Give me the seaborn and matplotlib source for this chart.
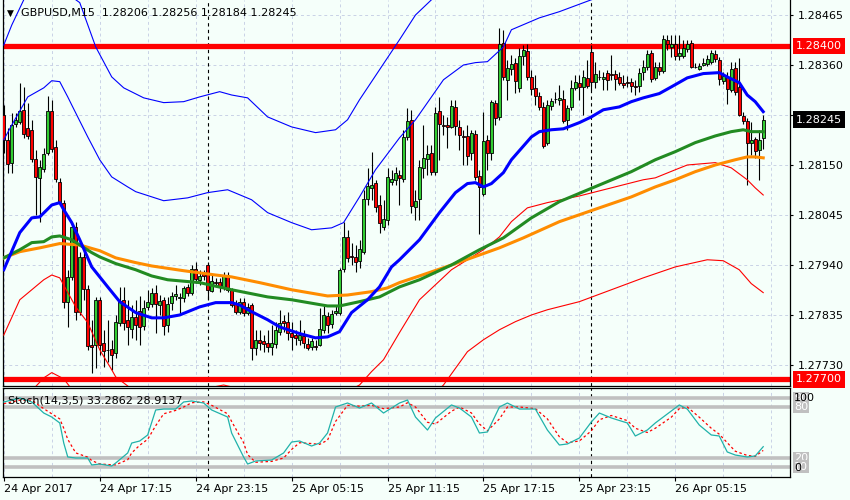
import numpy as np
import pandas as pd
import matplotlib
matplotlib.use("Agg")
import matplotlib.pyplot as plt
import matplotlib.transforms as mtransforms
from matplotlib.ticker import MultipleLocator
import seaborn as sns

# ---------------- data ----------------
opens = [1.28255,1.28203,1.28155,1.28237,1.28241,1.28266,1.28228,1.28224,1.28163,1.28123,
1.28142,1.28176,1.28264,1.28188,1.28115,1.28071,1.27863,1.27915,1.28020,1.27842,
1.27957,1.27890,1.27772,1.27772,1.27867,1.27777,1.27762,1.27764,1.27756,1.27819,
1.27867,1.27825,1.27806,1.27831,1.27844,1.27812,1.27852,1.27859,1.27882,1.27856,
1.27867,1.27814,1.27861,1.27875,1.27871,1.27871,1.27894,1.27882,1.27932,1.27909,
1.27922,1.27940,1.27886,1.27905,1.27905,1.27894,1.27919,1.27888,1.27861,1.27842,
1.27863,1.27840,1.27856,1.27766,1.27783,1.27781,1.27777,1.27768,1.27775,1.27800,
1.27823,1.27821,1.27798,1.27793,1.27783,1.27791,1.27775,1.27768,1.27770,1.27772,
1.27804,1.27833,1.27817,1.27840,1.27840,1.27932,1.27999,1.27959,1.27957,1.27949,
1.27968,1.28079,1.28102,1.28113,1.28066,1.28020,1.28035,1.28115,1.28119,1.28129,
1.28121,1.28209,1.28245,1.28062,1.28079,1.28144,1.28163,1.28176,1.28136,1.28264,
1.28234,1.28234,1.28230,1.28272,1.28230,1.28211,1.28211,1.28176,1.28216,1.28127,
1.28090,1.28203,1.28176,1.28281,1.28251,1.28407,1.28329,1.28352,1.28365,1.28312,
1.28379,1.28390,1.28335,1.28312,1.28295,1.28272,1.28197,1.28274,1.28289,1.28287,
1.28289,1.28245,1.28272,1.28312,1.28323,1.28314,1.28333,1.28388,1.28325,1.28335,
1.28331,1.28344,1.28342,1.28342,1.28335,1.28323,1.28325,1.28325,1.28316,1.28316,
1.28346,1.28356,1.28386,1.28333,1.28356,1.28348,1.28413,1.28398,1.28405,1.28379,
1.28379,1.28394,1.28407,1.28356,1.28352,1.28360,1.28363,1.28367,1.28384,1.28371,
1.28327,1.28335,1.28308,1.28354,1.28314,1.28253,1.28243,1.28197,1.28205,1.28182,
1.28206]
highs = [1.28276,1.28228,1.28260,1.28260,1.28323,1.28314,1.28281,1.28245,1.28182,1.28161,
1.28186,1.28295,1.28287,1.28203,1.28123,1.28077,1.27930,1.28024,1.28031,1.27968,
1.27972,1.27898,1.27825,1.27873,1.27873,1.27804,1.27825,1.27783,1.27835,1.27894,
1.27894,1.27867,1.27856,1.27867,1.27875,1.27867,1.27888,1.27892,1.27898,1.27877,
1.27873,1.27873,1.27884,1.27898,1.27882,1.27896,1.27901,1.27940,1.27947,1.27930,
1.27930,1.27947,1.27919,1.27913,1.27913,1.27926,1.27926,1.27892,1.27867,1.27871,
1.27871,1.27861,1.27861,1.27804,1.27804,1.27793,1.27804,1.27814,1.27821,1.27846,
1.27835,1.27842,1.27821,1.27804,1.27825,1.27804,1.27787,1.27787,1.27783,1.27850,
1.27856,1.27842,1.27846,1.27856,1.27934,1.28031,1.28014,1.27987,1.27982,1.27993,
1.28098,1.28144,1.28178,1.28119,1.28087,1.28077,1.28144,1.28140,1.28146,1.28140,
1.28224,1.28270,1.28266,1.28098,1.28161,1.28234,1.28192,1.28192,1.28272,1.28293,
1.28255,1.28251,1.28287,1.28287,1.28245,1.28224,1.28234,1.28224,1.28224,1.28140,
1.28262,1.28213,1.28287,1.28287,1.28438,1.28434,1.28371,1.28381,1.28375,1.28396,
1.28402,1.28405,1.28350,1.28339,1.28304,1.28283,1.28287,1.28291,1.28304,1.28318,
1.28308,1.28276,1.28329,1.28339,1.28339,1.28350,1.28371,1.28402,1.28367,1.28350,
1.28346,1.28350,1.28381,1.28350,1.28346,1.28339,1.28337,1.28333,1.28329,1.28354,
1.28371,1.28392,1.28392,1.28367,1.28367,1.28423,1.28423,1.28423,1.28423,1.28423,
1.28413,1.28413,1.28413,1.28365,1.28365,1.28375,1.28381,1.28392,1.28392,1.28377,
1.28346,1.28346,1.28367,1.28367,1.28375,1.28262,1.28249,1.28241,1.28209,1.28224,
1.28256]
lows = [1.28176,1.28134,1.28134,1.28230,1.28237,1.28207,1.28205,1.28157,1.28045,1.28031,
1.28136,1.28171,1.28178,1.28115,1.28066,1.27850,1.27810,1.27909,1.27825,1.27835,
1.27867,1.27762,1.27714,1.27724,1.27751,1.27726,1.27737,1.27720,1.27745,1.27812,
1.27804,1.27772,1.27787,1.27783,1.27772,1.27804,1.27846,1.27852,1.27798,1.27835,
1.27793,1.27800,1.27846,1.27867,1.27838,1.27863,1.27875,1.27877,1.27903,1.27898,
1.27909,1.27867,1.27884,1.27896,1.27884,1.27888,1.27884,1.27852,1.27838,1.27838,
1.27833,1.27835,1.27741,1.27751,1.27762,1.27758,1.27758,1.27751,1.27766,1.27793,
1.27800,1.27783,1.27762,1.27772,1.27772,1.27766,1.27762,1.27762,1.27762,1.27770,
1.27798,1.27798,1.27808,1.27835,1.27835,1.27926,1.27947,1.27940,1.27926,1.27934,
1.27964,1.28066,1.28077,1.28052,1.28008,1.28014,1.28024,1.28108,1.28108,1.28066,
1.28115,1.28203,1.28050,1.28035,1.28035,1.28123,1.28129,1.28129,1.28129,1.28161,
1.28213,1.28186,1.28228,1.28213,1.28182,1.28150,1.28150,1.28161,1.28119,1.28006,
1.28085,1.28140,1.28161,1.28234,1.28245,1.28329,1.28287,1.28339,1.28302,1.28304,
1.28360,1.28329,1.28297,1.28276,1.28266,1.28186,1.28192,1.28266,1.28281,1.28276,
1.28239,1.28224,1.28266,1.28308,1.28287,1.28255,1.28312,1.28308,1.28312,1.28329,
1.28308,1.28308,1.28329,1.28308,1.28318,1.28312,1.28314,1.28304,1.28297,1.28304,
1.28329,1.28350,1.28325,1.28329,1.28339,1.28344,1.28392,1.28377,1.28371,1.28371,
1.28375,1.28388,1.28354,1.28354,1.28350,1.28358,1.28358,1.28363,1.28367,1.28318,
1.28321,1.28279,1.28304,1.28297,1.28253,1.28237,1.28108,1.28171,1.28165,1.28119,
1.28184]
closes = [1.28203,1.28153,1.28234,1.28245,1.28264,1.28216,1.28211,1.28163,1.28125,1.28146,
1.28174,1.28264,1.28184,1.28121,1.28071,1.27863,1.27915,1.28020,1.27842,1.27957,
1.27890,1.27770,1.27768,1.27867,1.27772,1.27760,1.27762,1.27751,1.27821,1.27865,
1.27819,1.27810,1.27831,1.27814,1.27810,1.27850,1.27863,1.27882,1.27859,1.27865,
1.27812,1.27859,1.27875,1.27880,1.27873,1.27892,1.27882,1.27932,1.27911,1.27917,
1.27917,1.27888,1.27907,1.27903,1.27894,1.27919,1.27888,1.27856,1.27842,1.27863,
1.27840,1.27852,1.27766,1.27783,1.27777,1.27775,1.27768,1.27777,1.27804,1.27819,
1.27819,1.27798,1.27789,1.27787,1.27793,1.27777,1.27766,1.27781,1.27768,1.27806,
1.27835,1.27814,1.27838,1.27844,1.27930,1.27999,1.27955,1.27957,1.27947,1.27974,
1.28079,1.28106,1.28108,1.28062,1.28029,1.28037,1.28125,1.28121,1.28134,1.28123,
1.28209,1.28243,1.28064,1.28075,1.28146,1.28165,1.28174,1.28136,1.28260,1.28237,
1.28232,1.28230,1.28274,1.28232,1.28213,1.28209,1.28169,1.28218,1.28125,1.28104,
1.28201,1.28176,1.28283,1.28249,1.28405,1.28335,1.28354,1.28363,1.28327,1.28379,
1.28392,1.28335,1.28310,1.28295,1.28272,1.28190,1.28276,1.28285,1.28289,1.28291,
1.28243,1.28270,1.28312,1.28325,1.28314,1.28335,1.28316,1.28325,1.28342,1.28335,
1.28335,1.28329,1.28339,1.28331,1.28323,1.28318,1.28323,1.28316,1.28314,1.28344,
1.28356,1.28384,1.28331,1.28356,1.28348,1.28415,1.28405,1.28405,1.28379,1.28386,
1.28396,1.28405,1.28356,1.28356,1.28358,1.28365,1.28373,1.28386,1.28373,1.28331,
1.28337,1.28310,1.28352,1.28304,1.28255,1.28243,1.28197,1.28203,1.28180,1.28203,
1.28245]

# indicator lines (bar index -> value)
fast_idx = [0,4,7,9,12,14,15,17,19,22,26,29,33,37,40,44,49,53,57,59,62,66,69,74,78,81,84,87,
            91,94,97,99,104,109,113,116,118,120,122,125,127,132,134,137,140,144,147,150,154,
            157,160,164,167,171,175,179,181,184,186,188,190]
ma_fast = [1.27930,1.28008,1.28039,1.28041,1.28066,1.28071,1.28056,1.28029,1.27993,1.27936,
           1.27894,1.27863,1.27840,1.27829,1.27829,1.27835,1.27852,1.27861,1.27861,1.27856,
           1.27842,1.27825,1.27810,1.27796,1.27787,1.27789,1.27800,1.27840,1.27867,1.27894,
           1.27936,1.27951,1.27993,1.28050,1.28092,1.28111,1.28113,1.28104,1.28111,1.28134,
           1.28161,1.28209,1.28220,1.28224,1.28226,1.28239,1.28251,1.28266,1.28272,1.28283,
           1.28291,1.28300,1.28314,1.28333,1.28342,1.28344,1.28335,1.28323,1.28297,1.28283,
           1.28262]
mid_idx = [0,4,7,10,12,14,17,19,22,24,28,33,37,41,49,57,66,72,81,84,89,94,99,104,112,119,
           125,132,139,149,157,163,168,173,178,182,185,187,190]
ma_mid = [1.27955,1.27972,1.27987,1.27989,1.27999,1.28001,1.27993,1.27982,1.27966,1.27957,
          1.27943,1.27930,1.27917,1.27909,1.27903,1.27888,1.27873,1.27867,1.27854,1.27854,
          1.27863,1.27873,1.27894,1.27909,1.27940,1.27972,1.27997,1.28039,1.28073,1.28108,
          1.28136,1.28161,1.28178,1.28197,1.28211,1.28220,1.28224,1.28220,1.28220]
slow_idx = [0,4,9,14,19,24,28,33,37,45,53,57,64,72,81,86,92,96,99,104,112,119,124,130,139,
            149,157,163,168,173,178,183,186,188,190]
ma_slow = [1.27955,1.27968,1.27976,1.27985,1.27982,1.27970,1.27955,1.27945,1.27938,1.27928,
           1.27919,1.27915,1.27903,1.27888,1.27875,1.27877,1.27884,1.27892,1.27903,1.27917,
           1.27940,1.27961,1.27976,1.27997,1.28031,1.28060,1.28083,1.28104,1.28119,1.28136,
           1.28150,1.28161,1.28167,1.28167,1.28165]
up_outer_idx = [0,2,5,9,14,18,19,23,27,30,35,40,45,49,54,57,61,66,72,78,83,86,89,94,99,103,
                107,119,149,174,190]
band_up_outer = [1.28402,1.28444,1.28497,1.28581,1.28571,1.28497,1.28491,1.28398,1.28335,1.28312,
                 1.28291,1.28281,1.28283,1.28293,1.28304,1.28297,1.28291,1.28251,1.28230,1.28218,
                 1.28224,1.28245,1.28287,1.28350,1.28413,1.28465,1.28497,1.28623,1.28644,1.28623,
                 1.28665]
up_inner_idx = [0,2,6,10,12,14,16,17,21,24,27,31,33,40,46,51,56,62,66,72,77,82,85,89,93,99,
                103,106,110,115,118,121,125,127,134,139,147,159,174,190]
band_up_inner = [1.28203,1.28234,1.28293,1.28312,1.28327,1.28325,1.28293,1.28276,1.28209,1.28161,
                 1.28125,1.28104,1.28094,1.28075,1.28081,1.28092,1.28098,1.28077,1.28050,1.28029,
                 1.28014,1.28018,1.28029,1.28083,1.28140,1.28207,1.28245,1.28281,1.28329,1.28360,
                 1.28365,1.28367,1.28398,1.28434,1.28459,1.28472,1.28497,1.28529,1.28529,1.28581]
lo_inner_idx = [0,4,10,12,14,18,21,24,27,28,34,42,49,55,62,72,82,89,92,95,99,104,112,120,
                124,127,131,136,144,152,160,163,168,171,178,182,186,188,190]
band_lo_inner = [1.27793,1.27867,1.27909,1.27919,1.27913,1.27852,1.27819,1.27762,1.27720,1.27705,
                 1.27667,1.27661,1.27678,1.27688,1.27674,1.27657,1.27657,1.27688,1.27716,1.27741,
                 1.27798,1.27867,1.27930,1.27972,1.27999,1.28031,1.28060,1.28071,1.28085,1.28102,
                 1.28119,1.28123,1.28140,1.28150,1.28155,1.28144,1.28119,1.28102,1.28087]
lo_outer_idx = [0, 6, 10, 12, 15, 19, 32, 48, 72, 96, 110, 116, 120, 124, 128, 132,
                136, 144, 152, 160, 168, 176, 180, 184, 187, 190]
band_lo_outer = [1.27594,1.27667,1.27703,1.27714,1.27701,1.27657,1.27573,1.27531,1.27520,1.27573,
                 1.27688,1.27758,1.27783,1.27804,1.27821,1.27835,1.27846,1.27863,1.27888,1.27913,
                 1.27936,1.27951,1.27949,1.27930,1.27901,1.27882]

stoch_idx = [0,4,7,10,12,14,15,16,18,21,22,24,27,28,31,32,34,36,38,40,
             43,45,47,50,52,56,57,60,61,63,67,70,72,74,77,79,81,83,86,89,
             92,95,99,101,103,106,108,112,114,117,119,121,124,126,129,133,136,139,141,144,
             147,149,152,156,158,161,163,167,169,171,174,177,179,181,183,186,188,190]
stoch_k = [85.9,90.6,85.9,72.9,68.2,61.2,37.6,21.2,20,20,11.8,12.9,10.6,14.1,25.9,37.6,40,47.1,76.5,77.6,
           77.6,85.9,87.1,84.7,76.5,68.2,49.4,21.2,12.9,16.5,17.6,25.9,38.8,40,34.1,37.6,49.4,80,84.7,78.8,
           84.7,72.9,84.7,88.2,68.2,52.9,67.1,82.4,78.8,68.2,49.4,50.6,80,84.7,77.6,77.6,52.9,35.3,36.5,43.5,
           62.4,72.9,67.1,61.2,45.9,52.9,61.2,75.3,82.4,77.6,58.8,47.1,45.9,27.1,23.5,21.2,22.4,33.3]
stoch_d = [84,88,88,78,72,66,55,42,26,21,17,13,12,12,18,26,35,42,58,72,
           76,80,85,86,82,72,63,38,24,15,16,20,30,38,37,36,41,63,82,81,
           82,78,80,85,80,62,60,75,80,73,60,52,66,80,80,78,66,45,38,40,
           52,65,70,64,55,50,55,68,78,80,68,55,48,38,28,23,22,28.9]
stoch_levels = [90, 80, 20, 10]

price_ticks = [1.28465, 1.28360, 1.28255, 1.28150, 1.28045, 1.27940, 1.27835, 1.27730]
price_tick_labels = ["1.28465", "1.28360", "", "1.28150", "1.28045", "1.27940", "1.27835", "1.27730"]
time_tick_idx = [0, 24, 48, 72, 96, 120, 144, 168]
time_labels = ["24 Apr 2017", "24 Apr 17:15", "24 Apr 23:15", "25 Apr 05:15",
               "25 Apr 11:15", "25 Apr 17:15", "25 Apr 23:15", "26 Apr 05:15"]
day_breaks = [51, 147]
hlines = [1.28400, 1.27700]
last_price = 1.28245

# ---------------- figure ----------------
plt.rcParams['font.family'] = ['DejaVu Sans']
W, H = 850, 500
bg = '#f5fffa'
fig = plt.figure(figsize=(W / 100, H / 100), dpi=100)
fig.patch.set_facecolor(bg)
ax = fig.add_axes([3 / W, 1 - 386 / H, 787 / W, 386 / H])
ax2 = fig.add_axes([3 / W, 1 - 477 / H, 787 / W, 89 / H])
for a in (ax, ax2):
    a.set_facecolor(bg)
    a.set_xlim(-0.2, 196.7)
    for s in a.spines.values():
        s.set_color('black')
        s.set_linewidth(0.9)
ax.spines['top'].set_visible(False)
ax.set_ylim(1.276859, 1.284965)
ax2.set_ylim(-2.35, 102.35)

gridc = '#c9d2e6'
ax.set_yticks(price_ticks)
ax.set_yticklabels(price_tick_labels)
ax.yaxis.tick_right()
ax.tick_params(axis='y', length=2.5, pad=3, labelsize=8, colors='black')
ax.set_xticks(time_tick_idx)
ax.xaxis.set_minor_locator(MultipleLocator(12))
ax.tick_params(axis='x', which='both', length=0, labelbottom=False)
ax.grid(True, which='both', color=gridc, lw=0.7, ls=(0, (3, 3)), zorder=0)
ax.set_axisbelow(True)

ax2.set_yticks([])
ax2.set_xticks(time_tick_idx)
ax2.set_xticklabels(time_labels, ha='left')
ax2.xaxis.set_minor_locator(MultipleLocator(12))
ax2.tick_params(axis='x', which='major', length=3, pad=2, labelsize=8)
ax2.tick_params(axis='x', which='minor', length=0)
ax2.grid(True, axis='x', which='both', color=gridc, lw=0.7, ls=(0, (3, 3)), zorder=0)
ax2.set_axisbelow(True)

for hv in hlines:
    ax.axhline(hv, color='#ff0000', lw=3.8, zorder=1.5)

for d in day_breaks:
    ax.axvline(d, color='black', lw=0.8, ls=(0, (3, 3)), zorder=1)
    ax2.axvline(d, color='black', lw=0.8, ls=(0, (3, 3)), zorder=1)

# candles
df = pd.DataFrame({'open': opens, 'high': highs, 'low': lows, 'close': closes})
df['i'] = np.arange(len(df))
up = df['close'] >= df['open']
ax.vlines(df['i'], df['low'], df['high'], color='black', lw=0.8, zorder=2)
ax.bar(df['i'][up], (df['close'] - df['open'])[up], bottom=df['open'][up], width=0.72,
       color='#32cd32', edgecolor='black', linewidth=0.6, zorder=3)
ax.bar(df['i'][~up], (df['close'] - df['open'])[~up], bottom=df['open'][~up], width=0.72,
       color='#ff0000', edgecolor='black', linewidth=0.6, zorder=3)

# indicator lines
sns.lineplot(x=up_outer_idx, y=band_up_outer, ax=ax, color='#0000ff', lw=0.8, zorder=4)
sns.lineplot(x=up_inner_idx, y=band_up_inner, ax=ax, color='#0000ff', lw=0.8, zorder=4)
sns.lineplot(x=lo_inner_idx, y=band_lo_inner, ax=ax, color='#ff0000', lw=0.8, zorder=4)
sns.lineplot(x=lo_outer_idx, y=band_lo_outer, ax=ax, color='#ff0000', lw=0.8, zorder=4)
sns.lineplot(x=slow_idx, y=ma_slow, ax=ax, color='#ff8c00', lw=2.2, zorder=5)
sns.lineplot(x=mid_idx, y=ma_mid, ax=ax, color='#228b22', lw=2.2, zorder=5)
sns.lineplot(x=fast_idx, y=ma_fast, ax=ax, color='#0000ff', lw=2.2, zorder=6)
ax.set_xlabel('')
ax.set_ylabel('')

# stochastic
for lv in stoch_levels:
    ax2.axhline(lv, color='#c0c0c0', lw=2.6, zorder=1)
sns.lineplot(x=stoch_idx, y=stoch_d, ax=ax2, color='#ff0000', lw=0.9, linestyle=(0, (2, 2)), zorder=3)
sns.lineplot(x=stoch_idx, y=stoch_k, ax=ax2, color='#20b2aa', lw=0.9, zorder=4)
ax2.set_xlabel('')
ax2.set_ylabel('')

# right-side boxes
tr = mtransforms.blended_transform_factory(ax.transAxes, ax.transData)
for hv in hlines:
    ax.text(1.0075, hv, f"{hv:.5f}", transform=tr, ha='left', va='center', fontsize=8,
            color='white', bbox=dict(boxstyle='square,pad=0.3', fc='#ff0000', ec='none'),
            zorder=10, clip_on=False)
ax.text(1.0075, last_price, f"{last_price:.5f}", transform=tr, ha='left', va='center', fontsize=8,
        color='white', bbox=dict(boxstyle='square,pad=0.3', fc='black', ec='none'),
        zorder=10, clip_on=False)

tr2 = mtransforms.blended_transform_factory(ax2.transAxes, ax2.transData)
for lv in stoch_levels:
    ax2.text(1.005, lv, str(lv), transform=tr2, ha='left', va='center', fontsize=8,
             color='white', bbox=dict(boxstyle='square,pad=0.1', fc='#c0c0c0', ec='none'),
             clip_on=False)
ax2.text(1.005, 0.888, "100", transform=ax2.transAxes, ha='left', va='center', fontsize=8,
         color='black', clip_on=False)
ax2.text(1.006, 0.101, "0", transform=ax2.transAxes, ha='left', va='center', fontsize=8,
         color='black', clip_on=False)

# headers
fig.text(7 / W, 1 - 13 / H, "\u25bc", fontsize=6.5, va='center', ha='left', color='black')
fig.text(21 / W, 1 - 13 / H, "GBPUSD,M15  1.28206 1.28256 1.28184 1.28245", fontsize=8,
         va='center', ha='left', color='black')
ax2.text(0.006, 0.86, "Stoch(14,3,5) 33.2862 28.9137", transform=ax2.transAxes, fontsize=8,
         va='center', ha='left', color='black', zorder=6)

fig.savefig("out.png", dpi=100, facecolor=bg)
